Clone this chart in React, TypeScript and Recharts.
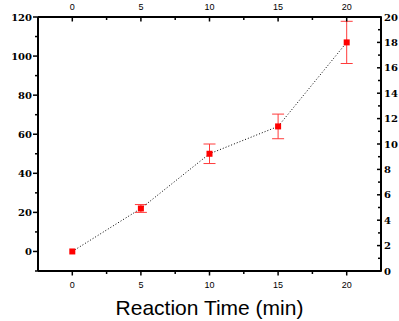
import { ComposedChart, Line, XAxis, YAxis, ErrorBar } from 'recharts';

const TIMES = [0, 5, 10, 15, 20];
const VALUES = [0, 22, 50, 64, 107];
const ERRORS = [0, 2, 5, 6.3, 10.8];

const X_TICKS = [0, 2.5, 5, 7.5, 10, 12.5, 15, 17.5, 20];
const LEFT_TICKS = [-10, 0, 10, 20, 30, 40, 50, 60, 70, 80, 90, 100, 110, 120];
const RIGHT_TICKS = [0, 1, 2, 3, 4, 5, 6, 7, 8, 9, 10, 11, 12, 13, 14, 15, 16, 17, 18, 19, 20];

const data = TIMES.map((t, i) => ({ t, y: VALUES[i], err: ERRORS[i] }));

const SANS = '"Liberation Sans", Arial, sans-serif';
const SERIF = '"DejaVu Serif", serif';
const AXIS_LINE = { stroke: '#000', strokeWidth: 2 };

function BottomTick({ x, y, payload }: any) {
  const major = payload.value % 5 === 0;
  return (
    <g>
      <line x1={x} x2={x} y1={y} y2={y + (major ? 4.5 : 3)} stroke="#000" strokeWidth={1.5} />
      {major && (
        <text x={x} y={y + 16.5} textAnchor="middle" fontSize={9} fontFamily={SANS} fill="#000">
          {payload.value}
        </text>
      )}
    </g>
  );
}

function TopTick({ x, y, payload }: any) {
  const major = payload.value % 5 === 0;
  return (
    <g>
      <line x1={x} x2={x} y1={y} y2={y + (major ? 4.5 : 3)} stroke="#000" strokeWidth={1.5} />
      {major && (
        <text x={x} y={y - 7.5} textAnchor="middle" fontSize={9} fontFamily={SANS} fill="#000">
          {payload.value}
        </text>
      )}
    </g>
  );
}

function LeftTick({ x, y, payload }: any) {
  const major = payload.value % 20 === 0;
  return (
    <g>
      <line x1={x - (major ? 5 : 3)} x2={x} y1={y} y2={y} stroke="#000" strokeWidth={1.5} />
      {major && (
        <text x={x - 6} y={y + 3.5} textAnchor="end" fontSize={10} fontWeight="bold" fontFamily={SERIF} fill="#000">
          {payload.value}
        </text>
      )}
    </g>
  );
}

function RightTick({ x, y, payload }: any) {
  const major = payload.value % 2 === 0;
  return (
    <g>
      <line x1={x - (major ? 4 : 3)} x2={x + 1} y1={y} y2={y} stroke="#000" strokeWidth={1.5} />
      {major && (
        <text x={x + 3} y={y + 3.5} textAnchor="start" fontSize={10} fontWeight="bold" fontFamily={SERIF} fill="#000">
          {payload.value}
        </text>
      )}
    </g>
  );
}

function SquareDot({ cx, cy }: any) {
  if (cx == null || cy == null) return null;
  return <rect x={cx - 3} y={cy - 3} width={6} height={6} fill="#ff0000" />;
}

export default function App() {
  return (
    <div style={{ position: 'absolute', left: 0, top: 0, background: '#fff' }}>
      <ComposedChart width={399} height={321} data={data} margin={{ top: 0, right: 0, bottom: 0, left: 0 }}>
        <XAxis
          xAxisId="bottom"
          dataKey="t"
          type="number"
          domain={[-2.5, 22.5]}
          allowDataOverflow
          ticks={X_TICKS}
          interval={0}
          tickSize={0}
          tickMargin={0}
          tickLine={false}
          tick={<BottomTick />}
          height={50}
          axisLine={AXIS_LINE}
          label={{
            value: 'Reaction Time (min)',
            position: 'insideBottom',
            offset: 6,
            fontSize: 21,
            fontFamily: SANS,
            fill: '#000',
          }}
        />
        <XAxis
          xAxisId="top"
          dataKey="t"
          orientation="top"
          type="number"
          domain={[-2.5, 22.5]}
          allowDataOverflow
          ticks={X_TICKS}
          interval={0}
          tickSize={0}
          tickMargin={0}
          tickLine={false}
          tick={<TopTick />}
          height={17}
          axisLine={AXIS_LINE}
        />
        <YAxis
          yAxisId="left"
          type="number"
          domain={[-10, 120]}
          allowDataOverflow
          ticks={LEFT_TICKS}
          interval={0}
          tickSize={0}
          tickMargin={0}
          tickLine={false}
          tick={<LeftTick />}
          width={38}
          axisLine={AXIS_LINE}
        />
        <YAxis
          yAxisId="right"
          orientation="right"
          type="number"
          domain={[0, 20]}
          allowDataOverflow
          ticks={RIGHT_TICKS}
          interval={0}
          tickSize={0}
          tickMargin={0}
          tickLine={false}
          tick={<RightTick />}
          width={18}
          axisLine={AXIS_LINE}
        />
        {/* invisible series so the top axis gets a scale */}
        <Line
          xAxisId="top"
          yAxisId="left"
          dataKey="y"
          stroke="none"
          dot={false}
          activeDot={false}
          isAnimationActive={false}
        />
        <Line
          xAxisId="bottom"
          yAxisId="left"
          dataKey="y"
          stroke="#000"
          strokeWidth={1}
          strokeDasharray="1 2"
          dot={<SquareDot />}
          activeDot={false}
          isAnimationActive={false}
        >
          <ErrorBar dataKey="err" direction="y" width={6} stroke="#ff3b3b" strokeWidth={1} isAnimationActive={false} />
        </Line>
      </ComposedChart>
    </div>
  );
}
